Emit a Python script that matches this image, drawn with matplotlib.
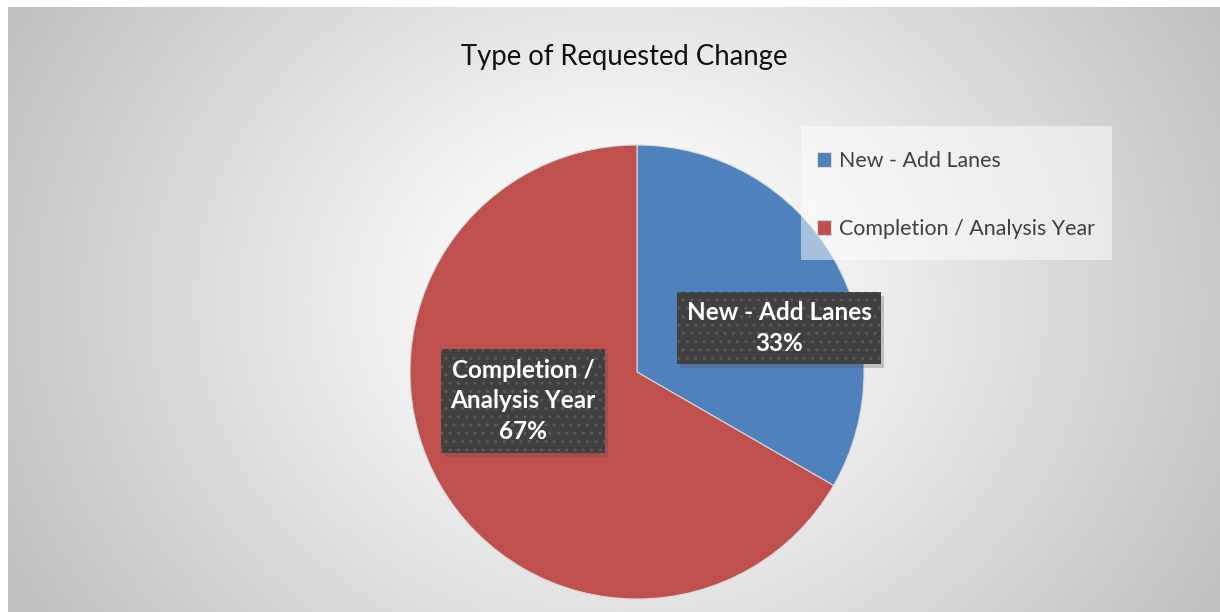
import numpy as np
import matplotlib.pyplot as plt
from matplotlib.patches import Rectangle

plt.rcParams['font.family'] = ['Lato', 'DejaVu Sans']

categories = ["New - Add Lanes", "Completion / Analysis Year"]
values = [1, 2]
colors = ["#4F81BD", "#C0504D"]
title = "Type of Requested Change"

W, H = 1220, 612
fig = plt.figure(figsize=(W / 100, H / 100), dpi=100)
fig.patch.set_facecolor("white")

# radial grey background of the chart area
bg = fig.add_axes([8 / W, 0, (W - 8) / W, (H - 7) / H])
bg.set_axis_off()
yy, xx = np.mgrid[7:H, 8:W]
d = np.hypot(xx - 620, (yy - 300) * 1.15)
r0, r1 = 90, 690
v = 255 - 63 * np.clip((d - r0) / (r1 - r0), 0, 1)
img = np.dstack([v, v, v]) / 255
bg.imshow(img, aspect="auto", extent=[0, 1, 0, 1])
bg.set_xlim(0, 1); bg.set_ylim(0, 1)

fig.text(624 / W, 1 - 57 / H, title, ha="center", va="center", fontsize=19.8, color="#111111")

# pie, centre (637,372) radius 227 px
cx, cy, r = 637, 372, 227
ax = fig.add_axes([(cx - r) / W, 1 - (cy + r) / H, 2 * r / W, 2 * r / H])
wedges, _ = ax.pie(values, colors=colors, startangle=90, counterclock=False,
                   radius=1, wedgeprops=dict(linewidth=0.8, edgecolor="#d9d9d9"))
ax.set_xlim(-1, 1); ax.set_ylim(-1, 1)
ax.set_axis_off()

plt.rcParams['hatch.color'] = "#5a5a5a"
plt.rcParams['hatch.linewidth'] = 1.0
total = sum(values)
label_pos = [(779, 328), (523, 401)]
label_txt = ["New - Add Lanes\n{:.0%}", "Completion /\nAnalysis Year\n{:.0%}"]
labels = []
for (px, py), fmt, val in zip(label_pos, label_txt, values):
    t = fig.text(px / W, 1 - py / H, fmt.format(val / total), color="white",
                 ha="center", va="center", fontsize=17.5, fontweight="bold", linespacing=1.42,
                 bbox=dict(boxstyle="square,pad=0.38", fc="#404040", ec="#5a5a5a",
                           lw=0, hatch=".."), zorder=5)
    labels.append(t)

# soft shadow boxes behind the labels
fig.canvas.draw()
for t in labels:
    ext = t.get_bbox_patch().get_window_extent()
    fig.add_artist(Rectangle(((ext.x0 + 3) / W, (ext.y0 - 4) / H), ext.width / W, ext.height / H,
                             transform=fig.transFigure, facecolor="#555555", alpha=0.3,
                             lw=0, zorder=4))

# legend panel
fig.add_artist(Rectangle((801 / W, 1 - 260 / H), 311 / W, 134 / H, transform=fig.transFigure,
                         facecolor="white", alpha=0.5, lw=0, zorder=3))
leg = fig.legend(wedges, categories, loc="upper left",
                 bbox_to_anchor=(817 / W, 1 - 151 / H), fontsize=15.4,
                 frameon=False, handlelength=0.65, handleheight=0.65,
                 handletextpad=0.4, labelspacing=2.25, borderpad=0, borderaxespad=0)
leg.set_zorder(4)
for txt in leg.get_texts():
    txt.set_color("#404040")

fig.savefig("out.png", dpi=100)
